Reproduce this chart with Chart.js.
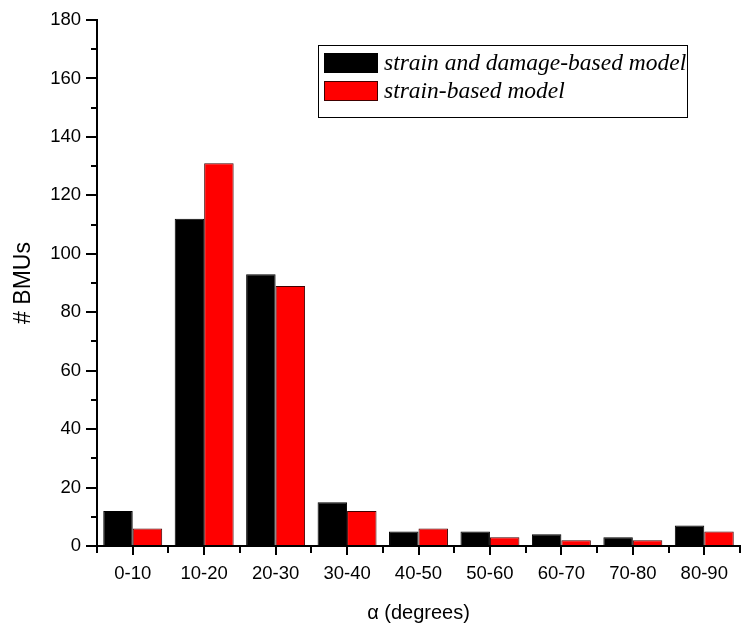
<!DOCTYPE html>
<html lang="en">
<head>
  <meta charset="UTF-8">
  <title>BMUs by angle</title>
  <script src="https://cdn.jsdelivr.net/npm/chart.js@4.4.0/dist/chart.umd.min.js"></script>
  <style>
    body { margin: 0; background: #fff; }
    #wrap { width: 743px; height: 628px; }
  </style>
</head>
<body>
  <div id="wrap"><canvas id="chart" width="743" height="628"></canvas></div>
  <script>
    const angleBins = ['0-10', '10-20', '20-30', '30-40', '40-50', '50-60', '60-70', '70-80', '80-90'];
    const strainDamage = [12, 112, 93, 15, 5, 5, 4, 3, 7];
    const strainOnly = [6, 131, 89, 12, 6, 3, 2, 2, 5];
    const seriesNames = ['strain and damage-based model', 'strain-based model'];

    // minor ticks (y every 10, x at bin edges) + boxed legend inside the plot
    const extras = {
      id: 'extras',
      afterDraw(chart) {
        const ctx = chart.ctx;
        const x = chart.scales.x, y = chart.scales.y;
        const area = chart.chartArea;
        ctx.save();
        ctx.strokeStyle = '#000';
        ctx.lineWidth = 2;
        ctx.beginPath();
        for (let v = 10; v < 180; v += 20) {
          const py = Math.round(y.getPixelForValue(v));
          ctx.moveTo(area.left - 6, py);
          ctx.lineTo(area.left, py);
        }
        const half = (x.getPixelForValue(1) - x.getPixelForValue(0)) / 2;
        for (let i = 0; i <= angleBins.length; i++) {
          const px = Math.round(x.getPixelForValue(i) - half);
          ctx.moveTo(px, area.bottom);
          ctx.lineTo(px, area.bottom + 7);
        }
        ctx.stroke();

        // legend
        const ds = chart.data.datasets;
        ctx.font = 'italic 23.5px "Liberation Serif", "Times New Roman", serif';
        ctx.textBaseline = 'middle';
        const bx = 318, by = 45, bw = 369, bh = 72;
        ctx.lineWidth = 1;
        ctx.strokeStyle = '#000';
        ctx.strokeRect(bx + 0.5, by + 0.5, bw, bh);
        ds.forEach((d, i) => {
          const ry = by + 8 + i * 28;
          ctx.fillStyle = d.backgroundColor;
          ctx.fillRect(bx + 6, ry, 54, 20);
          ctx.strokeStyle = d.borderColor;
          ctx.strokeRect(bx + 6.5, ry + 0.5, 53, 19);
          ctx.fillStyle = '#000';
          ctx.fillText(d.label, bx + 66, ry + 11);
        });
        ctx.restore();
      }
    };

    const tickFont = { family: '"Liberation Sans", Arial, sans-serif', size: 18.5 };

    new Chart(document.getElementById('chart'), {
      type: 'bar',
      data: {
        labels: angleBins,
        datasets: [
          {
            label: seriesNames[0],
            data: strainDamage,
            backgroundColor: '#000000',
            borderColor: '#000000',
            borderWidth: 1
          },
          {
            label: seriesNames[1],
            data: strainOnly,
            backgroundColor: '#ff0000',
            borderColor: '#400000',
            borderWidth: 1
          }
        ]
      },
      options: {
        responsive: false,
        animation: false,
        layout: { padding: { top: 20, right: 3, left: 0, bottom: 0 } },
        plugins: {
          legend: { display: false },
          tooltip: { enabled: false }
        },
        datasets: {
          bar: { categoryPercentage: 0.825, barPercentage: 1.0 }
        },
        scales: {
          x: {
            offset: true,
            grid: { offset: false, drawOnChartArea: false, tickLength: 9, color: '#000', lineWidth: 2 },
            border: { color: '#000', width: 2 },
            ticks: { color: '#000', font: tickFont, padding: 8, maxRotation: 0 },
            title: {
              display: true,
              text: 'α (degrees)',
              color: '#000',
              font: { family: '"Liberation Sans", Arial, sans-serif', size: 20 },
              padding: { top: 0, bottom: 3 }
            },
            afterFit(s) { s.height = 82; }
          },
          y: {
            min: 0,
            max: 180,
            ticks: { stepSize: 20, color: '#000', font: tickFont, padding: 5 },
            grid: { drawOnChartArea: false, tickLength: 11, color: '#000', lineWidth: 2 },
            border: { color: '#000', width: 2 },
            title: {
              display: true,
              text: '# BMUs',
              color: '#000',
              font: { family: '"Liberation Sans", Arial, sans-serif', size: 23 },
              padding: { top: 10, bottom: 0 }
            },
            afterFit(s) { s.width = 97; }
          }
        }
      },
      plugins: [extras]
    });
  </script>
</body>
</html>
